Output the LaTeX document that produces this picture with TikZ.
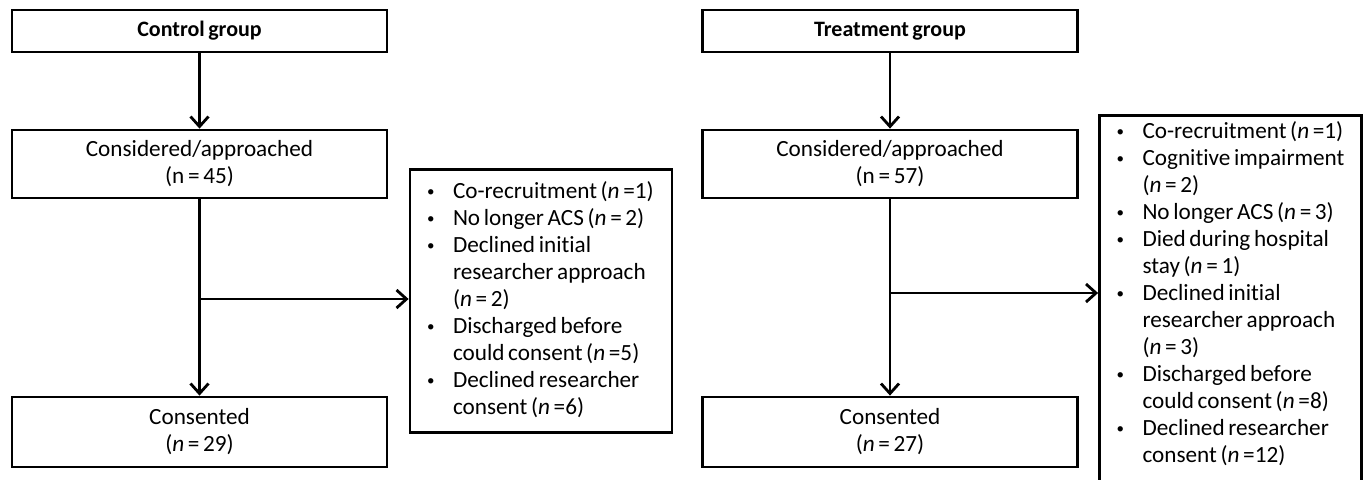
\documentclass[tikz,border=0pt]{standalone}
\usepackage{fontspec}
\setmainfont{Carlito}[Ligatures=NoCommon, WordSpace=0.7]
\usetikzlibrary{arrows.meta}

\newcommand{\dotmark}{\raisebox{1pt}{\fontsize{7.5}{7.5}\selectfont\textbullet}}
\newcommand{\nn}{{\itshape n}}

\tikzset{
  flowbox/.style={draw, line width=1.4pt, minimum width=187.5pt, align=center,
    font=\fontsize{11.6}{13.5}\selectfont},
  exclbox/.style={draw, line width=1.4pt, anchor=north, inner xsep=8.5pt,
    text width=114pt, align=left, font=\fontsize{11.6}{13.5}\selectfont},
  flowarrow/.style={line width=1.4pt, -{Straight Barb[length=5pt, width=9pt]}}
}

\begin{document}
\begin{tikzpicture}[x=0.5pt, y=-0.5pt]
\useasboundingbox (0,0) rectangle (1366,479);

% Control group
\node[flowbox, minimum height=21pt, font=\fontsize{11}{13}\selectfont\bfseries] (ctrlGroup) at (199.5,31) {Control group};
\node[flowbox, minimum height=34pt] (ctrlAppr) at (199.5,164) {Considered/approached\\(n = 45)};
\node[flowbox, minimum height=35pt] (ctrlCons) at (199.5,432) {Consented\\(\nn{} = 29)};
\node[exclbox, inner ysep=5pt] (ctrlExcl) at (541,168) {\spaceskip=0pt
\begin{tabular}{@{}p{13pt}@{}l@{}}
\dotmark & Co-recruitment (\nn{} =1)\\
\dotmark & No longer ACS (\nn{} = 2)\\
\dotmark & Declined initial\\
 & researcher approach\\
 & (\nn{} = 2)\\
\dotmark & Discharged before\\
 & could consent (\nn{} =5)\\
\dotmark & Declined researcher\\
 & consent (\nn{} =6)
\end{tabular}};

\draw[flowarrow] (ctrlGroup) -- (ctrlAppr);
\draw[flowarrow] (ctrlAppr) -- (ctrlCons);
\coordinate (ctrlSplit) at (199.5,299);
\draw[flowarrow] (ctrlSplit) -- (ctrlSplit -| ctrlExcl.west);

% Treatment group
\node[flowbox, minimum height=21pt, font=\fontsize{11}{13}\selectfont\bfseries] (trtGroup) at (890,31) {Treatment group};
\node[flowbox, minimum height=34pt] (trtAppr) at (890,164) {Considered/approached\\(n = 57)};
\node[flowbox, minimum height=35pt] (trtCons) at (890,432) {Consented\\(\nn{} = 27)};
\node[exclbox, inner ysep=2.3pt] (trtExcl) at (1230.5,114) {\spaceskip=0pt
\begin{tabular}{@{}p{13pt}@{}l@{}}
\dotmark & Co-recruitment (\nn{} =1)\\
\dotmark & Cognitive impairment\\
 & (\nn{} = 2)\\
\dotmark & No longer ACS (\nn{} = 3)\\
\dotmark & Died during hospital\\
 & stay (\nn{} = 1)\\
\dotmark & Declined initial\\
 & researcher approach\\
 & (\nn{} = 3)\\
\dotmark & Discharged before\\
 & could consent (\nn{} =8)\\
\dotmark & Declined researcher\\
 & consent (\nn{} =12)\\[10pt]
\end{tabular}};

\draw[flowarrow] (trtGroup) -- (trtAppr);
\draw[flowarrow] (trtAppr) -- (trtCons);
\coordinate (trtSplit) at (890,293);
\draw[flowarrow] (trtSplit) -- (trtSplit -| trtExcl.west);
\end{tikzpicture}
\end{document}
